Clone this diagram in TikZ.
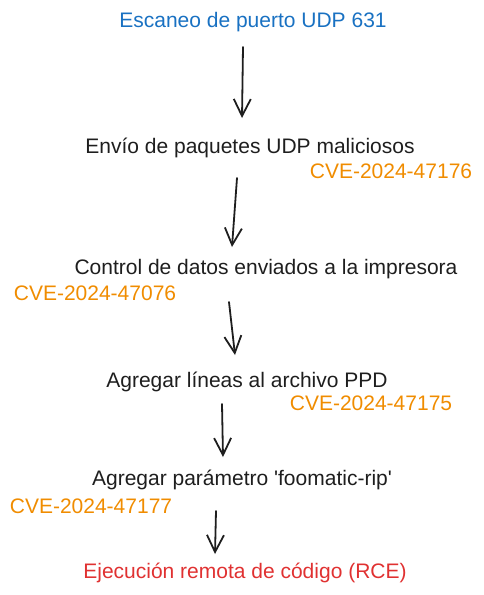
\documentclass[tikz,border=0pt]{standalone}
\usepackage{fontspec}
\setmainfont{Liberation Sans}
\usetikzlibrary{arrows.meta}
\definecolor{xblue}{HTML}{1971C2}
\definecolor{xblack}{HTML}{1E1E1E}
\definecolor{xorange}{HTML}{F08C00}
\definecolor{xred}{HTML}{E03131}
\tikzset{
  lbl/.style={anchor=base, inner sep=0pt, font=\fontsize{21}{24}\selectfont, text=xblack},
  cve/.style={lbl, text=xorange},
  flow/.style={draw=xblack, line width=1.8pt, line cap=round, -{Straight Barb[length=17pt,width=17pt,line width=1.8pt]}}
}
\begin{document}
\begin{tikzpicture}[x=1pt,y=-1pt]
\useasboundingbox (0,0) rectangle (483,595);
\node[lbl, text=xblue] (t1) at (253,27) {Escaneo de puerto UDP 631};
\node[lbl] (t2) at (250,153) {Envío de paquetes UDP maliciosos};
\node[cve] (c1) at (391,178) {CVE-2024-47176};
\node[lbl] (t3) at (266,274) {Control de datos enviados a la impresora};
\node[cve] (c2) at (95,300) {CVE-2024-47076};
\node[lbl] (t4) at (247,387) {Agregar líneas al archivo PPD};
\node[cve] (c3) at (371,410) {CVE-2024-47175};
\node[lbl] (t5) at (242,485) {Agregar parámetro \textquotesingle foomatic-rip\textquotesingle};
\node[cve] (c4) at (91,513) {CVE-2024-47177};
\node[lbl, text=xred] (t6) at (245,578) {Ejecución remota de código (RCE)};
\coordinate (a1s) at (243,47);  \coordinate (a1e) at (242,118);
\coordinate (a2s) at (237,178); \coordinate (a2e) at (232,247);
\coordinate (a3s) at (229,302); \coordinate (a3e) at (235,355);
\coordinate (a4s) at (222,404); \coordinate (a4e) at (223,457);
\coordinate (a5s) at (216,511); \coordinate (a5e) at (215,554);
\draw[flow] (a1s) -- (a1e);
\draw[flow] (a2s) -- (a2e);
\draw[flow] (a3s) -- (a3e);
\draw[flow] (a4s) -- (a4e);
\draw[flow] (a5s) -- (a5e);
\end{tikzpicture}
\end{document}
